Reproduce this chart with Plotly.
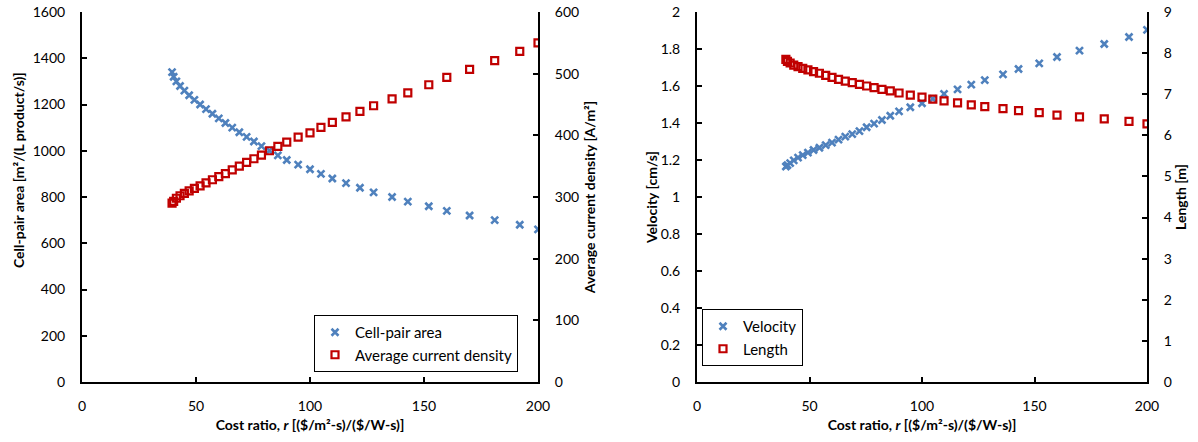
import plotly.graph_objects as go

# ---- data ----
cost_ratio = [39.5, 40.2, 41.4, 43.0, 44.9, 47.0, 49.3, 51.8, 54.4, 57.2,
              60.0, 62.9, 65.9, 69.0, 72.2, 75.4, 78.7, 82.2, 85.9, 89.8,
              94.8, 100.0, 104.8, 109.8, 115.8, 121.9, 127.9, 136.0, 142.9, 152.1,
              160.0, 170.0, 181.0, 192.0, 200.0]
cell_pair_area = [1340, 1320, 1300, 1280, 1260, 1240, 1220, 1200, 1180, 1160,
                  1140, 1120, 1100, 1080, 1060, 1040, 1020, 1000, 980, 960,
                  940, 920, 900, 880, 860, 840, 820, 800, 780, 760,
                  740, 720, 700, 680, 660]
current_density = [290, 293, 298, 302, 306, 310, 314, 318, 323, 328,
                   333, 338, 344, 350, 356, 362, 368, 375, 382, 389,
                   397, 404, 413, 421, 430, 439, 448, 459, 469, 482,
                   494, 507, 521, 536, 550]
velocity = [1.165, 1.172, 1.183, 1.198, 1.213, 1.226, 1.240, 1.254, 1.266, 1.280,
            1.294, 1.310, 1.326, 1.340, 1.356, 1.377, 1.397, 1.416, 1.439, 1.463,
            1.485, 1.507, 1.530, 1.557, 1.582, 1.607, 1.632, 1.663, 1.692, 1.722,
            1.757, 1.791, 1.827, 1.865, 1.903]
length = [7.85, 7.80, 7.76, 7.71, 7.67, 7.63, 7.59, 7.55, 7.51, 7.46,
          7.41, 7.36, 7.32, 7.28, 7.24, 7.20, 7.16, 7.12, 7.08, 7.03,
          6.98, 6.93, 6.88, 6.84, 6.79, 6.74, 6.70, 6.65, 6.60, 6.55,
          6.49, 6.45, 6.40, 6.34, 6.28]

BLUE = "#4F81BD"
RED = "#C00000"
FONT = "Lato"

fig = go.Figure()

cross = dict(symbol="x-thin-open", size=7, color=BLUE, line=dict(width=2.6, color=BLUE))
square = dict(symbol="square-open", size=7, color=RED, line=dict(width=2.2, color=RED))

fig.add_trace(go.Scatter(x=cost_ratio, y=cell_pair_area, mode="markers", name="Cell-pair area",
                         marker=cross, xaxis="x", yaxis="y", legend="legend"))
fig.add_trace(go.Scatter(x=cost_ratio, y=current_density, mode="markers", name="Average current density",
                         marker=square, xaxis="x", yaxis="y2", legend="legend"))
fig.add_trace(go.Scatter(x=cost_ratio, y=velocity, mode="markers", name="Velocity",
                         marker=cross, xaxis="x2", yaxis="y3", legend="legend2"))
fig.add_trace(go.Scatter(x=cost_ratio, y=length, mode="markers", name="Length",
                         marker=square, xaxis="x2", yaxis="y4", legend="legend2"))

tickfont = dict(family=FONT, size=14, color="black")
titlefont = dict(family=FONT, size=14, color="black")
legendfont = dict(family=FONT, size=15, color="black")

def axis_common():
    return dict(showgrid=False, zeroline=False, showline=True, linecolor="black", linewidth=2,
                ticks="inside", ticklen=5, tickwidth=1.5, tickcolor="black",
                tickfont=tickfont, automargin=False)

xtitle = "<b>Cost ratio, <i>r</i> [($/m²-s)/($/W-s)]</b>"

W, H = 1198, 442
ML, MR, MT, MB = 82, 51, 12, 60
PW, PH = W - ML - MR, H - MT - MB
L_DOM = [0.0, (538 - ML) / PW]
R_DOM = [(697 - ML) / PW, 1.0]

fig.update_layout(
    width=W, height=H,
    margin=dict(l=ML, r=MR, t=MT, b=MB),
    paper_bgcolor="white", plot_bgcolor="white",
    showlegend=True,
    xaxis=dict(**axis_common(), domain=L_DOM, range=[0, 200], dtick=50, anchor="y",
               ticklabelstandoff=10,
               title=dict(text=xtitle, font=titlefont, standoff=7)),
    yaxis=dict(**axis_common(), range=[0, 1600], dtick=200, anchor="x",
               ticklabelstandoff=12),
    yaxis2=dict(**axis_common(), range=[0, 600], dtick=100, anchor="x", overlaying="y", side="right",
                ticklabelstandoff=12,
                title=dict(text="<b>Average current density [A/m²]</b>", font=titlefont, standoff=7)),
    xaxis2=dict(**axis_common(), domain=R_DOM, range=[0, 200], dtick=50, anchor="y3",
                ticklabelstandoff=10,
                title=dict(text=xtitle, font=titlefont, standoff=7)),
    yaxis3=dict(**axis_common(), range=[0, 2], dtick=0.2, anchor="x2",
                ticklabelstandoff=12,
                title=dict(text="<b>Velocity [cm/s]</b>", font=titlefont, standoff=0)),
    yaxis4=dict(**axis_common(), range=[0, 9], dtick=1, anchor="x2", overlaying="y3", side="right",
                ticklabelstandoff=12,
                title=dict(text="<b>Length [m]</b>", font=titlefont, standoff=4)),
    legend=dict(x=(314 - ML) / PW, y=(H - MB - 315) / PH, xanchor="left", yanchor="top",
                bordercolor="black", borderwidth=1, bgcolor="white",
                font=legendfont, itemwidth=30, tracegroupgap=0),
    legend2=dict(x=(702 - ML) / PW, y=(H - MB - 309) / PH, xanchor="left", yanchor="top",
                 bordercolor="black", borderwidth=1, bgcolor="white",
                 font=legendfont, itemwidth=30, tracegroupgap=0),
    annotations=[
        dict(text="<b>Cell-pair area [m²/(L product/s)]</b>", textangle=-90,
             xref="paper", yref="paper",
             x=(18 - ML) / PW, y=(H - MB - 170) / PH,
             xanchor="center", yanchor="middle", showarrow=False, font=titlefont),
    ],
)

fig.write_html("out.html")
